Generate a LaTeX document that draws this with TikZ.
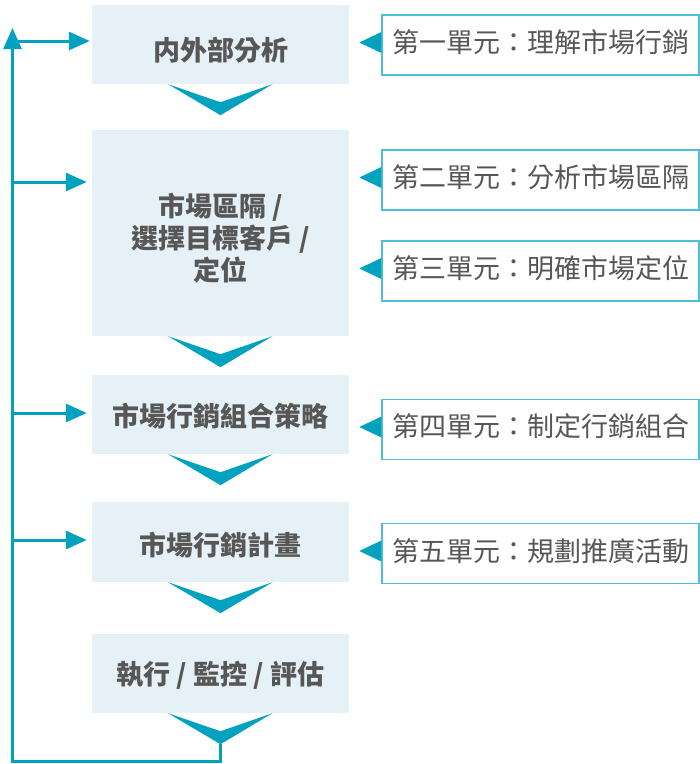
\documentclass[tikz,border=0pt]{standalone}
\usepackage{fontspec}
\newfontfamily\cjk{Noto Sans CJK TC}
\usetikzlibrary{arrows.meta,calc}
\definecolor{tealc}{HTML}{00A2BF}
\definecolor{boxfill}{HTML}{E6F1F7}
\definecolor{boxline}{HTML}{4EBFD6}
\definecolor{txt}{HTML}{575757}
\tikzset{
  stage/.style={fill=boxfill, minimum width=257pt, inner sep=0pt},
  stagetext/.style={inner sep=0pt, align=center, text=txt,
    font=\cjk\bfseries\fontsize{27}{32}\selectfont},
  unit/.style={draw=boxline, line width=1.3pt, fill=white, minimum width=317pt,
    minimum height=60pt, inner sep=0pt},
  unittext/.style={inner sep=0pt, text=txt, font=\cjk\fontsize{27}{32}\selectfont},
  link/.style={draw=tealc, line width=3pt},
  tip/.style={-{Triangle[length=21pt,width=18pt]}}
}
\begin{document}
\begin{tikzpicture}[x=1pt,y=-1pt]
\useasboundingbox (0,0) rectangle (700,764);
% stages
\node[stage, minimum height=79pt] (b1) at (220.5,44.5) {};
\node[stage, minimum height=206pt] (b2) at (220.5,233) {};
\node[stage, minimum height=79pt] (b3) at (220.5,414.5) {};
\node[stage, minimum height=80pt] (b4) at (220.5,542) {};
\node[stage, minimum height=79pt] (b5) at (220.5,673.5) {};
\node[stagetext] (t1) at ($(b1)+(0,6)$) {内外部分析};
\node[stagetext] (t2) at ($(b2)+(0,5)$) {市場區隔 /\\選擇目標客戶 /\\定位};
\node[stagetext] (t3) at ($(b3)+(0,1.5)$) {市場行銷組合策略};
\node[stagetext] (t4) at ($(b4)+(0,3)$) {市場行銷計畫};
\node[stagetext] (t5) at ($(b5)+(0,1.5)$) {執行 / 監控 / 評估};
% chevrons
\foreach \b in {b1,b2,b3,b4,b5}{
  \fill[tealc] ($(\b.south)+(-52.5,0)$) -- ++(52.5,18) -- ++(52,-18) -- ++(-52,31) -- cycle;
}
\coordinate (c5) at ($(b5.south)+(0,31)$);
% units
\node[unit] (rA) at (540.5,45) {};
\node[unit] (rB) at (540.5,180) {};
\node[unit] (rC) at (540.5,271) {};
\node[unit] (rD) at (540.5,429.5) {};
\node[unit] (rE) at (540.5,553.5) {};
\node[unittext] (uA) at ($(rA)+(0,-2.5)$) {第一單元：理解市場行銷};
\node[unittext] (uB) at ($(rB)+(0,-2.5)$) {第二單元：分析市場區隔};
\node[unittext] (uC) at ($(rC)+(0,-2.5)$) {第三單元：明確市場定位};
\node[unittext] (uD) at ($(rD)+(0,-3)$) {第四單元：制定行銷組合};
\node[unittext] (uE) at ($(rE)+(0,-2.5)$) {第五單元：規劃推廣活動};
\foreach \r in {rA,rB,rC,rD,rE}{
  \fill[tealc] ([yshift=2.5pt]\r.west) ++(0,-10.5) -- ++(0,21) -- ++(-22,-10.5) -- cycle;
}
% feedback loop
\coordinate (bot) at (12.5,761.5);
\coordinate (top) at (12.5,28);
\draw[link, tip] (c5) -- (c5 |- bot) -- (bot) -- (top);
\coordinate (v1) at (12.5,41);
\coordinate (v2) at (12.5,182);
\coordinate (v3) at (12.5,413);
\coordinate (v4) at (12.5,540);
\draw[link, tip] (v1) -- ($(v1 -| b1.west)+(-2,0)$);
\draw[link, tip] (v2) -- ($(v2 -| b2.west)+(-5,0)$);
\draw[link, tip] (v3) -- ($(v3 -| b3.west)+(-5,0)$);
\draw[link, tip] (v4) -- ($(v4 -| b4.west)+(-5,0)$);
\end{tikzpicture}
\end{document}
